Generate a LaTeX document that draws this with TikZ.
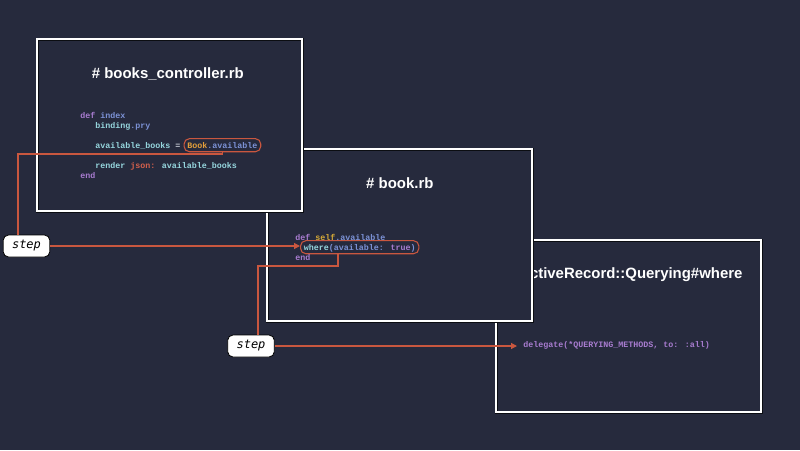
\documentclass[tikz,border=0pt]{standalone}
\usepackage{fontspec}
\setmainfont{Liberation Sans}
\newfontfamily\codefont{Liberation Mono}
\newfontfamily\stepfont{DejaVu Sans Mono}
\usetikzlibrary{calc,arrows.meta}
\definecolor{c0}{RGB}{38,42,61}
\definecolor{c1}{RGB}{201,87,63}
\definecolor{c2}{RGB}{168,124,208}
\definecolor{c3}{RGB}{124,146,214}
\definecolor{c4}{RGB}{150,214,222}
\definecolor{c5}{RGB}{226,158,58}
\definecolor{c6}{RGB}{212,96,76}
\definecolor{c7}{RGB}{211,168,56}
\definecolor{c8}{RGB}{200,204,214}
\tikzset{%
  panel/.style={draw=black!70!c0,double=white,double distance=1.4pt,line width=0.5pt,
    fill=c0,minimum width=198.75pt,minimum height=129pt,inner sep=0pt,anchor=north west},
  title/.style={text=white,font=\fontsize{11.2}{13}\selectfont\bfseries},
  code/.style={anchor=base west,inner sep=0pt,font=\codefont\fontsize{6.25}{7.5}\selectfont\bfseries},
  bubble/.style={code,draw=c1,line width=0.8pt,rounded corners=4pt,inner xsep=2.5pt,
    inner ysep=2.3pt,text height=4.7pt,text depth=0.5pt},
  stepbox/.style={fill=white,draw=black,line width=0.6pt,rounded corners=4pt,
    minimum width=35pt,minimum height=16.5pt,inner sep=0pt,
    font=\stepfont\itshape\fontsize{9}{10}\selectfont},
  link/.style={draw=c1,line width=0.9pt},
  link/.default=c1
}
\NewDocumentCommand\codetok{mm}{\textcolor{#1}{#2}}
\begin{document}
\begin{tikzpicture}[x=0.75pt,y=-0.75pt]
  % Background
  \fill[c0] (0,0) rectangle (800,450);
  % Panels
  \node[panel] (p3) at (496,240) {};
  \node[title] (t3) at ($(p3.north)+(2,35)$) {ActiveRecord::Querying\#where};
  \node[panel] (p2) at (267,149) {};
  \node[title] (t2) at ($(p2.north)+(0,34)$) {\# book.rb};
  \node[panel] (p1) at (37,39) {};
  \node[title] (t1) at ($(p1.north)+(-2,35)$) {\# books\_controller.rb};
  % Code
  \node[code] (l1) at (80,118) {\codetok{c2}{def} \codetok{c3}{index}};
  \node[code] (l2) at (95,128) {\codetok{c4}{binding}\codetok{c3}{.pry}};
  \node[code] (l3) at (95,148) {\codetok{c4}{available\_books} \codetok{c8}{=}};
  \node[bubble,xshift=2.25pt] (b1) at (l3.base east) {\codetok{c5}{Book}\codetok{c3}{.available}};
  \node[code] (l4) at (95,168) {\codetok{c4}{render} \codetok{c6}{json:} \codetok{c4}{available\_books}};
  \node[code] (l5) at (80,178) {\codetok{c2}{end}};
  %
  \node[code] (m1) at (295,240) {\codetok{c2}{def} \codetok{c7}{self}\codetok{c3}{.available}};
  \node[bubble] (b2) at (300,250) {\codetok{c4}{where}\codetok{c3}{(available:} \codetok{c2}{true}\codetok{c3}{)}};
  \node[code] (m2) at (295,260) {\codetok{c2}{end}};
  %
  \node[code] (d1) at (523,347) {\codetok{c2}{delegate(*QUERYING\_METHODS, to: :all)}};
  % Steps
  \node[stepbox] (s1) at (26.5,246) {step};
  \node[stepbox] (s2) at (251,346) {step};
  % Connectors
  \coordinate (k1) at (18,154);
  \coordinate (k2) at (338,266);
  \coordinate (k3) at (258,266);
  \draw[link] (b1.south) |- (k1) -- (k1 |- s1.north);
  \draw[link,-{Triangle[length=4.5pt,width=4.5pt]}] (s1.east) -- (s1.east -| b2.west);
  \draw[link] (k2 |- b2.south) -- (k2) -- (k3) -- (k3 |- s2.north);
  \draw[link,-{Triangle[length=4.5pt,width=4.5pt]},shorten >=4.5pt] (s2.east) -- (s2.east -| d1.west);
\end{tikzpicture}
\end{document}
